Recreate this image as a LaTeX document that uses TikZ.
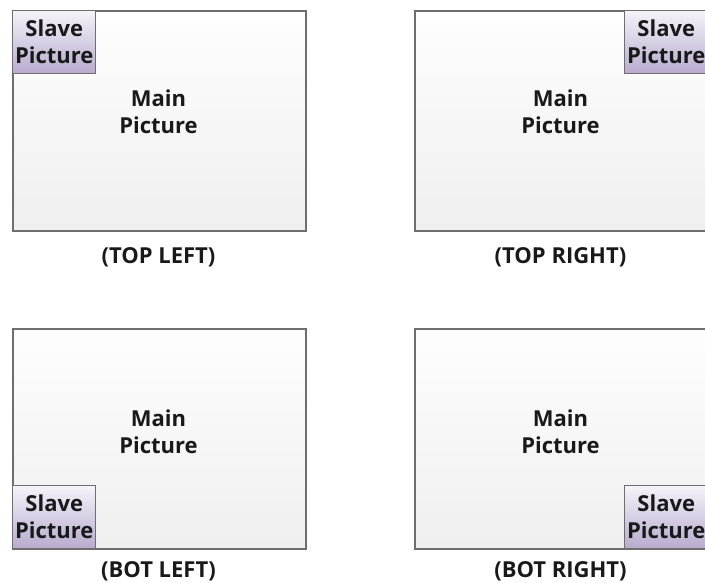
\documentclass[tikz,border=0pt]{standalone}
\usepackage{fontspec}
\setmainfont{Open Sans}
\definecolor{edge}{RGB}{110,110,110}
\definecolor{maintop}{RGB}{254,254,254}
\definecolor{mainbot}{RGB}{239,239,239}
\definecolor{slavetop}{RGB}{245,243,249}
\definecolor{slavebot}{RGB}{184,170,206}
\begin{document}
\begin{tikzpicture}[x=0.75pt,y=-0.75pt,
  mainbox/.style={draw=edge, line width=1.4pt, top color=maintop, bottom color=mainbot, anchor=north west, inner sep=0pt, minimum width={293*0.75pt}, minimum height={220*0.75pt}},
  slavebox/.style={draw=edge, line width=1.1pt, top color=slavetop, bottom color=slavebot, anchor=north west, inner sep=0pt, minimum width={83*0.75pt}, minimum height={63*0.75pt}},
  txt/.style={font=\bfseries\fontsize{16.5}{20.5}\selectfont, align=center, inner sep=0pt, text=black!90},
  lbl/.style={font=\bfseries\fontsize{16.5}{20.5}\selectfont, inner sep=0pt, anchor=base, text=black!90}]
\useasboundingbox (0,0) rectangle (705,582);
\clip (0,0) rectangle (705,582);
% top left
\node[mainbox] (m1) at (12,10) {};
\node[slavebox] (s1) at (12,10) {};
\node[txt] (t1) at (158.5,112) {Main\\Picture};
\node[txt] (u1) at ([yshift=0.5pt]s1.center) {Slave\\Picture};
\node[lbl] (l1) at (158.5,263) {(TOP LEFT)};
% top right
\node[mainbox] (m2) at (414,10) {};
\node[slavebox] (s2) at (624,10) {};
\node[txt] (t2) at (560.5,112) {Main\\Picture};
\node[txt] (u2) at ([yshift=0.5pt]s2.center) {Slave\\Picture};
\node[lbl] (l2) at (560.5,263) {(TOP RIGHT)};
% bottom left
\node[mainbox] (m3) at (12,328) {};
\node[slavebox] (s3) at (12,485) {};
\node[txt] (t3) at (158.5,432) {Main\\Picture};
\node[txt] (u3) at ([yshift=0.5pt]s3.center) {Slave\\Picture};
\node[lbl] (l3) at (158.5,577) {(BOT LEFT)};
% bottom right
\node[mainbox] (m4) at (414,328) {};
\node[slavebox] (s4) at (624,485) {};
\node[txt] (t4) at (560.5,432) {Main\\Picture};
\node[txt] (u4) at ([yshift=0.5pt]s4.center) {Slave\\Picture};
\node[lbl] (l4) at (560.5,577) {(BOT RIGHT)};
\end{tikzpicture}
\end{document}
